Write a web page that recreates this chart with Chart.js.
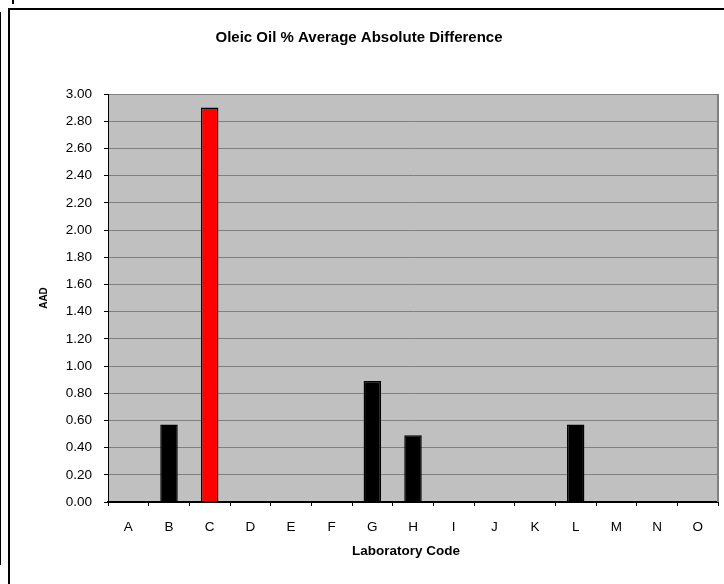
<!DOCTYPE html>
<html>
<head>
<meta charset="utf-8">
<script src="https://cdn.jsdelivr.net/npm/chart.js@4"></script>
<style>
  html, body { margin: 0; padding: 0; background: #fff; }
  #wrap { position: relative; width: 724px; height: 584px; overflow: hidden; }
  canvas { position: absolute; left: 0; top: 0; }
  .ln { position: absolute; background: #000; }
</style>
</head>
<body>
<div id="wrap">
  <canvas id="c" width="724" height="584"></canvas>
  <div class="ln" style="left:8px;top:8px;width:2px;height:576px;"></div>
  <div class="ln" style="left:8px;top:8px;width:716px;height:2px;"></div>
  <div class="ln" style="left:0px;top:12px;width:1px;height:553px;"></div>
  <div class="ln" style="left:12px;top:0px;width:2px;height:4px;"></div>
</div>
<script>
const categories = ['A','B','C','D','E','F','G','H','I','J','K','L','M','N','O'];
const aadValues = [0, 0.57, 2.90, 0, 0, 0, 0.89, 0.49, 0, 0, 0, 0.57, 0, 0, 0];
const highlightCategory = 'C';
const chartTitle = 'Oleic Oil % Average Absolute Difference';
const xTitle = 'Laboratory Code';
const yTitle = 'AAD';
const yMin = 0, yMax = 3, yStep = 0.2;

const FONT = "'Liberation Sans', Arial, sans-serif";

const plotBg = {
  id: 'plotBg',
  beforeDraw(chart) {
    const {ctx, chartArea: a} = chart;
    ctx.save();
    ctx.fillStyle = '#C0C0C0';
    ctx.fillRect(a.left, a.top, a.right - a.left, a.bottom - a.top);
    ctx.restore();
  },
  afterDraw(chart) {
    const {ctx, chartArea: a} = chart;
    ctx.save();
    ctx.strokeStyle = '#808080';
    ctx.lineWidth = 2;
    ctx.beginPath();
    ctx.moveTo(a.right, a.top);
    ctx.lineTo(a.right, a.bottom);
    ctx.stroke();
    ctx.fillStyle = '#000';
    ctx.font = "bold 13.5px " + FONT;
    ctx.textAlign = 'center';
    ctx.textBaseline = 'middle';
    ctx.fillText(xTitle, 406, 551);
    ctx.restore();
  }
};

new Chart(document.getElementById('c'), {
  type: 'bar',
  data: {
    labels: categories,
    datasets: [{
      data: aadValues,
      backgroundColor: categories.map(c => c === highlightCategory ? '#FF0000' : '#000000'),
      borderColor: '#000000',
      borderWidth: 1.5,
      categoryPercentage: 1,
      barPercentage: 0.43
    }]
  },
  options: {
    responsive: false,
    animation: false,
    devicePixelRatio: 1,
    layout: { padding: { left: 0, right: 6, top: 0, bottom: 0 } },
    plugins: {
      legend: { display: false },
      tooltip: { enabled: false },
      title: {
        display: true,
        text: chartTitle,
        color: '#000',
        font: { family: FONT, size: 15, weight: 'bold' },
        padding: { top: 29, bottom: 47 }
      }
    },
    scales: {
      x: {
        offset: true,
        grid: { offset: true, drawOnChartArea: false, tickLength: 4, color: '#000', tickColor: '#000' },
        border: { color: '#000', width: 2 },
        ticks: { color: '#000', font: { family: FONT, size: 13.5 }, padding: 13, maxRotation: 0, autoSkip: false },
        afterFit(scale) { scale.height = 82; }
      },
      y: {
        min: yMin, max: yMax,
        grid: { color: '#808080', lineWidth: 1, tickLength: 4, tickColor: '#000' },
        border: { color: '#000', width: 1 },
        ticks: {
          stepSize: yStep,
          color: '#000',
          font: { family: FONT, size: 13.5 },
          padding: 12,
          callback: v => Number(v).toFixed(2)
        },
        title: {
          display: true,
          text: yTitle,
          color: '#000',
          font: { family: FONT, size: 10, weight: 'bold' },
          padding: { top: 38, bottom: 0 }
        },
        afterFit(scale) { scale.width = 108; }
      }
    }
  },
  plugins: [plotBg]
});
</script>
</body>
</html>
